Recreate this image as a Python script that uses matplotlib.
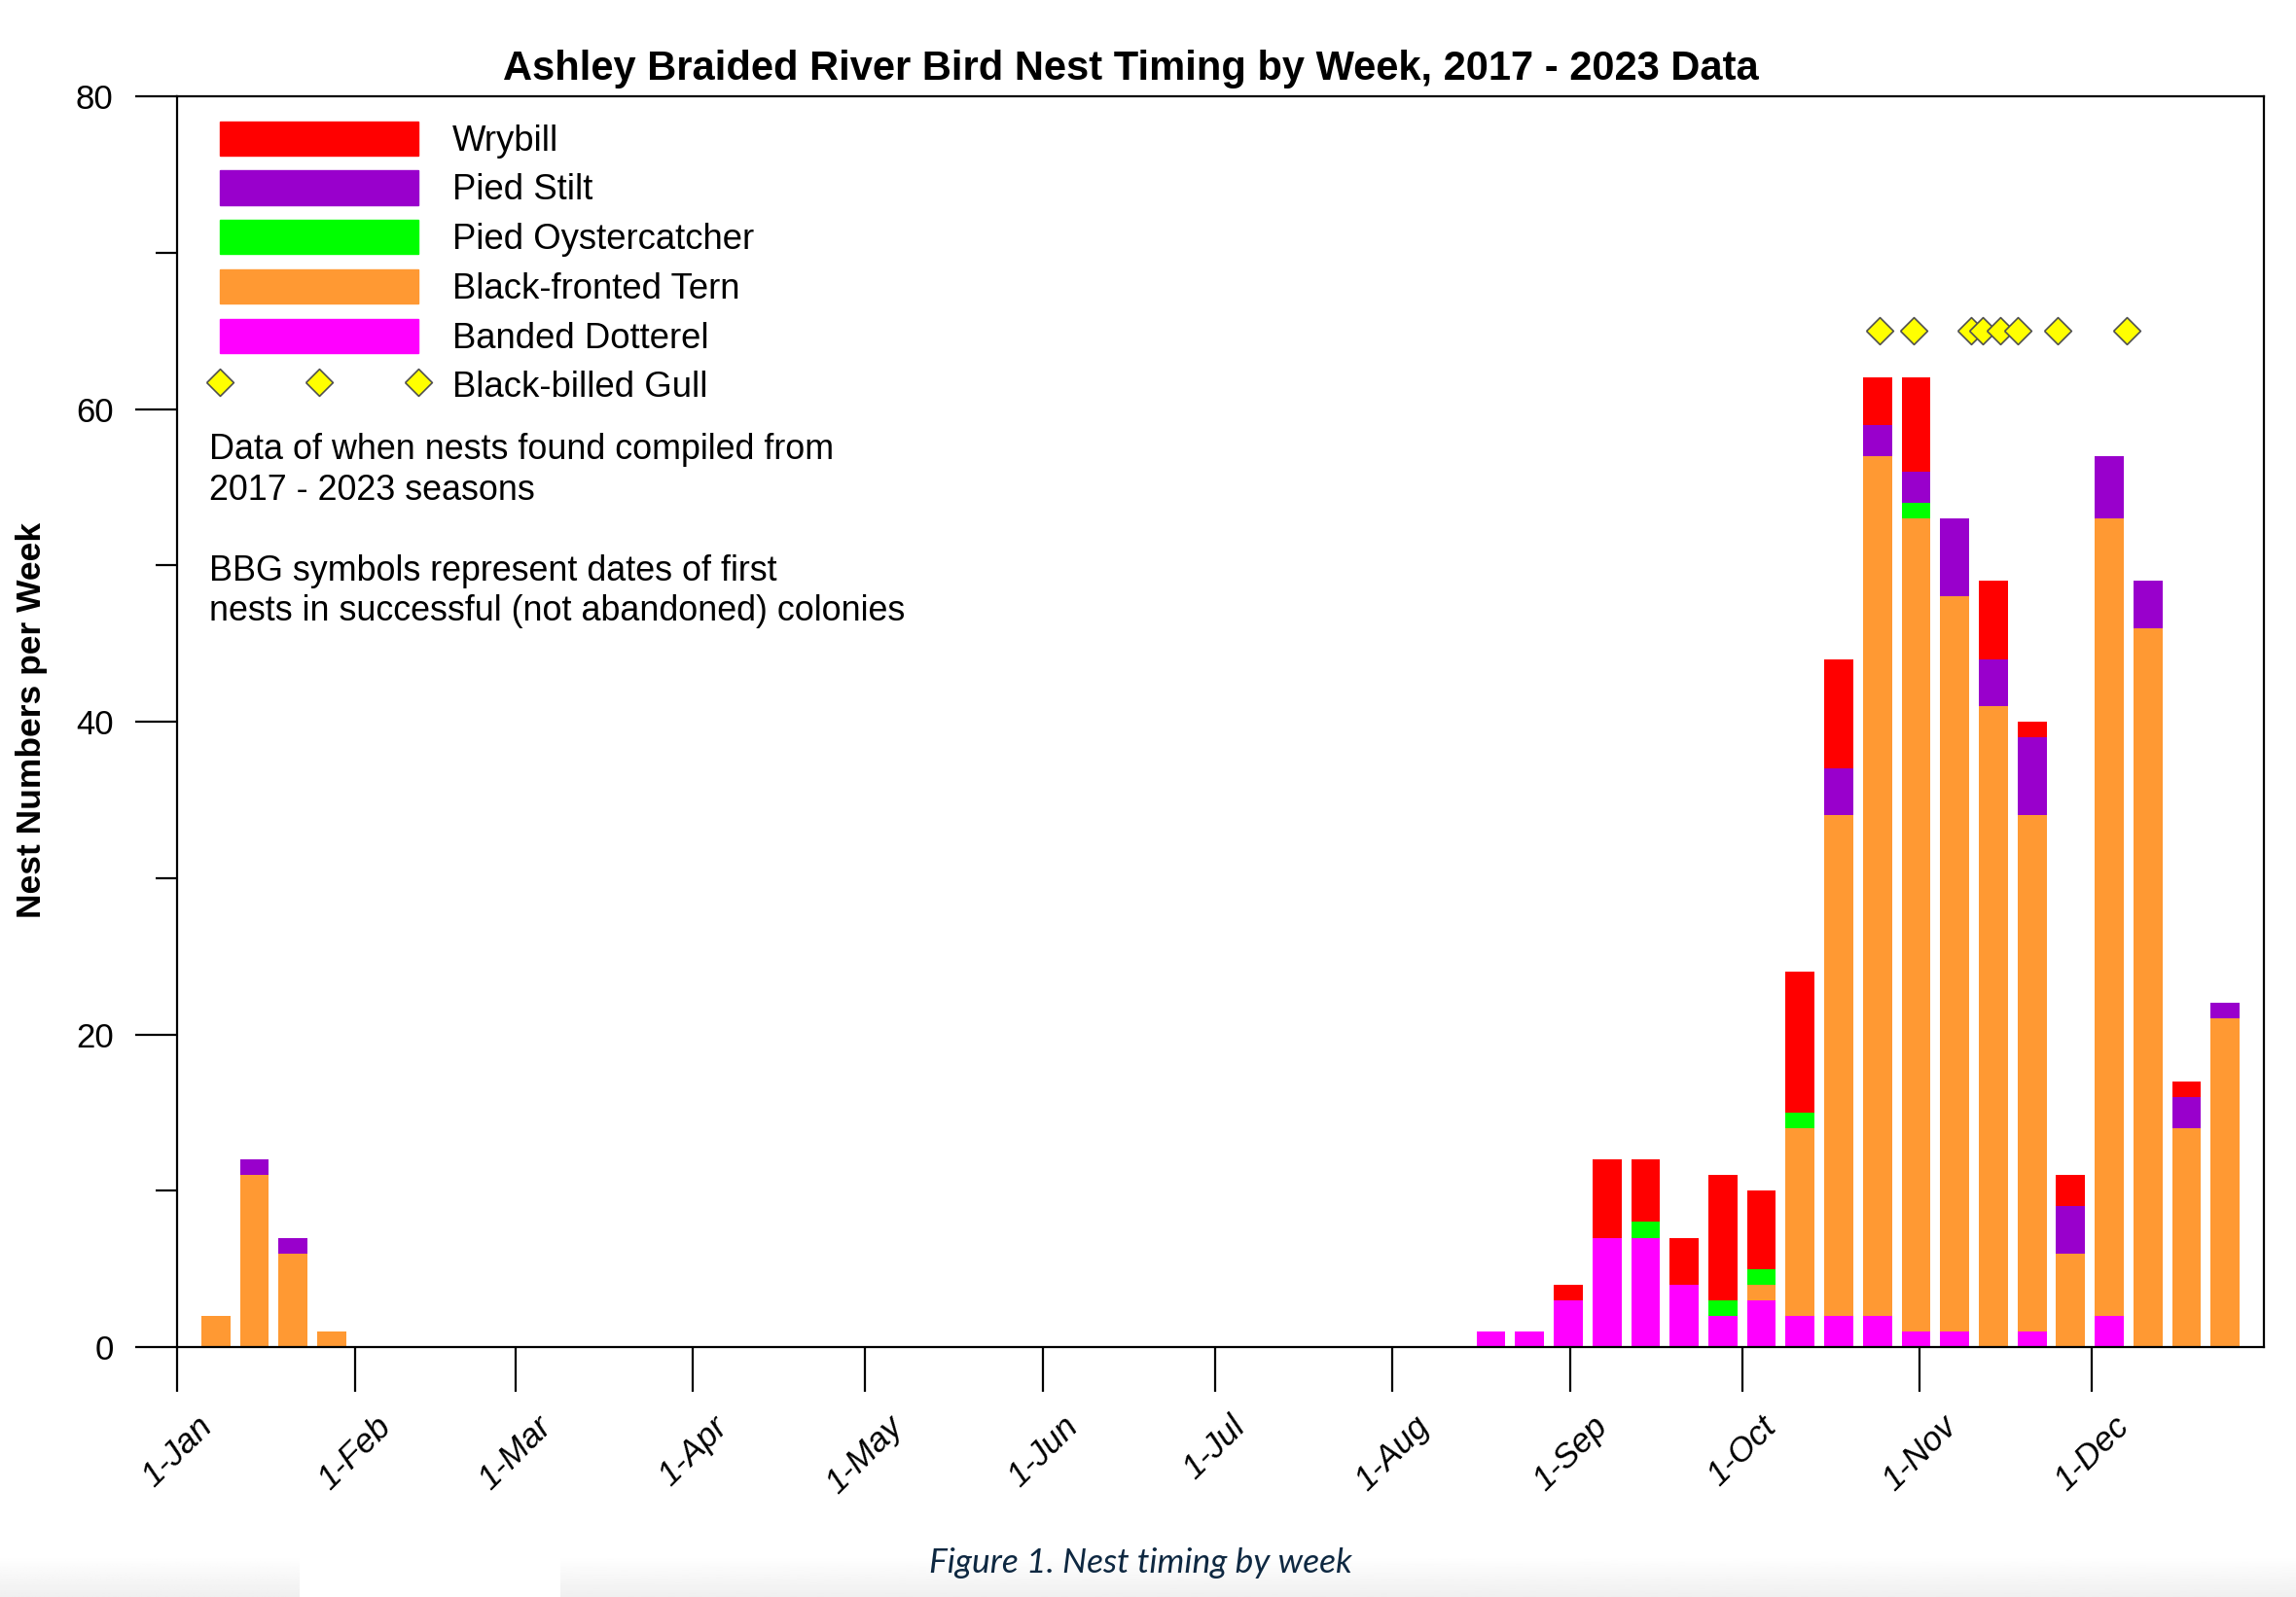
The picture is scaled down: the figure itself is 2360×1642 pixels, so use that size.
import matplotlib.pyplot as plt
import numpy as np
from matplotlib.patches import Patch
from matplotlib.lines import Line2D
from matplotlib.legend_handler import HandlerLine2D

plt.rcParams['font.family'] = ['Liberation Sans', 'DejaVu Sans']

# week slots (1 = first week of Jan), only weeks that had nests
weeks = [1, 2, 3, 4, 34, 35, 36, 37, 38, 39, 40, 41, 42, 43, 44, 45, 46, 47, 48, 49, 50, 51, 52, 53]

dotterel = [0, 0, 0, 0, 1, 1, 3, 7, 7, 4, 2, 3, 2, 2, 2, 1, 1, 0, 1, 0, 2, 0, 0, 0]
tern = [2, 11, 6, 1, 0, 0, 0, 0, 0, 0, 0, 1, 12, 32, 55, 52, 47, 41, 33, 6, 51, 46, 14, 21]
oyster = [0, 0, 0, 0, 0, 0, 0, 0, 1, 0, 1, 1, 1, 0, 0, 1, 0, 0, 0, 0, 0, 0, 0, 0]
stilt = [0, 1, 1, 0, 0, 0, 0, 0, 0, 0, 0, 0, 0, 3, 2, 2, 5, 3, 5, 3, 4, 3, 2, 1]
wrybill = [0, 0, 0, 0, 0, 0, 1, 5, 4, 3, 8, 5, 9, 7, 3, 6, 0, 5, 1, 2, 0, 0, 1, 0]

# first nests of successful BBG colonies (day of year, 1-Jan = 0)
gull_days = [297, 303, 313, 315, 318, 321, 328, 340]
gull_y = 65

month_days = [0, 31, 59, 90, 120, 151, 181, 212, 243, 273, 304, 334]
month_labels = ['1-Jan', '1-Feb', '1-Mar', '1-Apr', '1-May', '1-Jun',
                '1-Jul', '1-Aug', '1-Sep', '1-Oct', '1-Nov', '1-Dec']

c_wry = '#FF0000'
c_stilt = '#9900CC'
c_oyster = '#00FF00'
c_tern = '#FF9933'
c_dott = '#FF00FF'
c_gull = '#FFFF00'

DAY2WK = 54 / 364.0

fig = plt.figure(figsize=(23.6, 16.42), dpi=100)
ax = fig.add_axes([0.0771, 0.1565, 0.9089, 0.7832])

bottoms = np.zeros(len(weeks))
for vals, col in zip([dotterel, tern, oyster, stilt, wrybill],
                     [c_dott, c_tern, c_oyster, c_stilt, c_wry]):
    ax.bar(weeks, vals, width=0.75, bottom=bottoms, color=col, linewidth=0, zorder=2)
    bottoms += np.array(vals)

diamond = [(-1, 0), (0, 1), (1, 0), (0, -1), (-1, 0)]
ax.plot(np.array(gull_days) * DAY2WK, [gull_y] * len(gull_days), linestyle='none',
        marker=diamond, ms=20, mfc=c_gull, mec='#505050', mew=1.2, zorder=3, clip_on=False)

ax.set_xlim(0, 54)
ax.set_ylim(0, 80)
ax.set_yticks([0, 20, 40, 60, 80])
ax.set_yticks([10, 30, 50, 70], minor=True)
ax.set_xticks(np.array(month_days) * DAY2WK)
ax.set_xticklabels(month_labels, rotation=45, ha='center', fontstyle='italic', fontsize=25)
ax.tick_params(axis='y', which='major', length=31, width=1.6, pad=16, labelsize=25)
ax.tick_params(axis='y', which='minor', length=16, width=1.6)
ax.tick_params(axis='x', which='major', length=33, width=1.6, pad=14)
for s in ax.spines.values():
    s.set_linewidth(1.6)

handles = [Patch(color=c_wry), Patch(color=c_stilt), Patch(color=c_oyster),
           Patch(color=c_tern), Patch(color=c_dott),
           Line2D([], [], linestyle='none', marker=diamond, ms=20, mfc=c_gull,
                  mec='#505050', mew=1.2)]
labels = ['Wrybill', 'Pied Stilt', 'Pied Oystercatcher', 'Black-fronted Tern',
          'Banded Dotterel', 'Black-billed Gull']
leg = ax.legend(handles, labels, loc='upper left', bbox_to_anchor=(0.0205, 0.980),
                frameon=False, fontsize=26.3, handlelength=5.6, handleheight=1.1,
                labelspacing=0.35, handletextpad=0.95, borderpad=0, borderaxespad=0,
                handler_map={handles[-1]: HandlerLine2D(numpoints=3, marker_pad=0)})

ax.text(0.0154, 0.7306,
        'Data of when nests found compiled from\n2017 - 2023 seasons\n\n'
        'BBG symbols represent dates of first\nnests in successful (not abandoned) colonies',
        transform=ax.transAxes, ha='left', va='top', fontsize=25.8, linespacing=1.24)

fig.text(0.4924, 0.957, 'Ashley Braided River Bird Nest Timing by Week, 2017 - 2023 Data',
         ha='center', va='center', fontsize=30, fontweight='bold')
fig.text(0.0136, 0.549, 'Nest Numbers per Week', rotation=90, ha='center', va='center',
         fontsize=25.5, fontweight='bold')

# faint grey band along the bottom edge of the screenshot
grad = np.linspace(1.0, 0.94, 40).reshape(-1, 1)
for x0, w in [(0, 308 / 2360), (576 / 2360, 1 - 576 / 2360)]:
    gax = fig.add_axes([x0, 0, w, 0.026], zorder=-1)
    gax.imshow(grad, aspect='auto', cmap='gray', vmin=0, vmax=1)
    gax.axis('off')

fig.text(0.4966, 0.0213, 'Figure 1. Nest timing by week', ha='center', va='center',
         fontsize=25.5, fontstyle='italic', color='#0E2841', family=['Lato', 'DejaVu Sans'])

fig.savefig('out.png', dpi=100)
